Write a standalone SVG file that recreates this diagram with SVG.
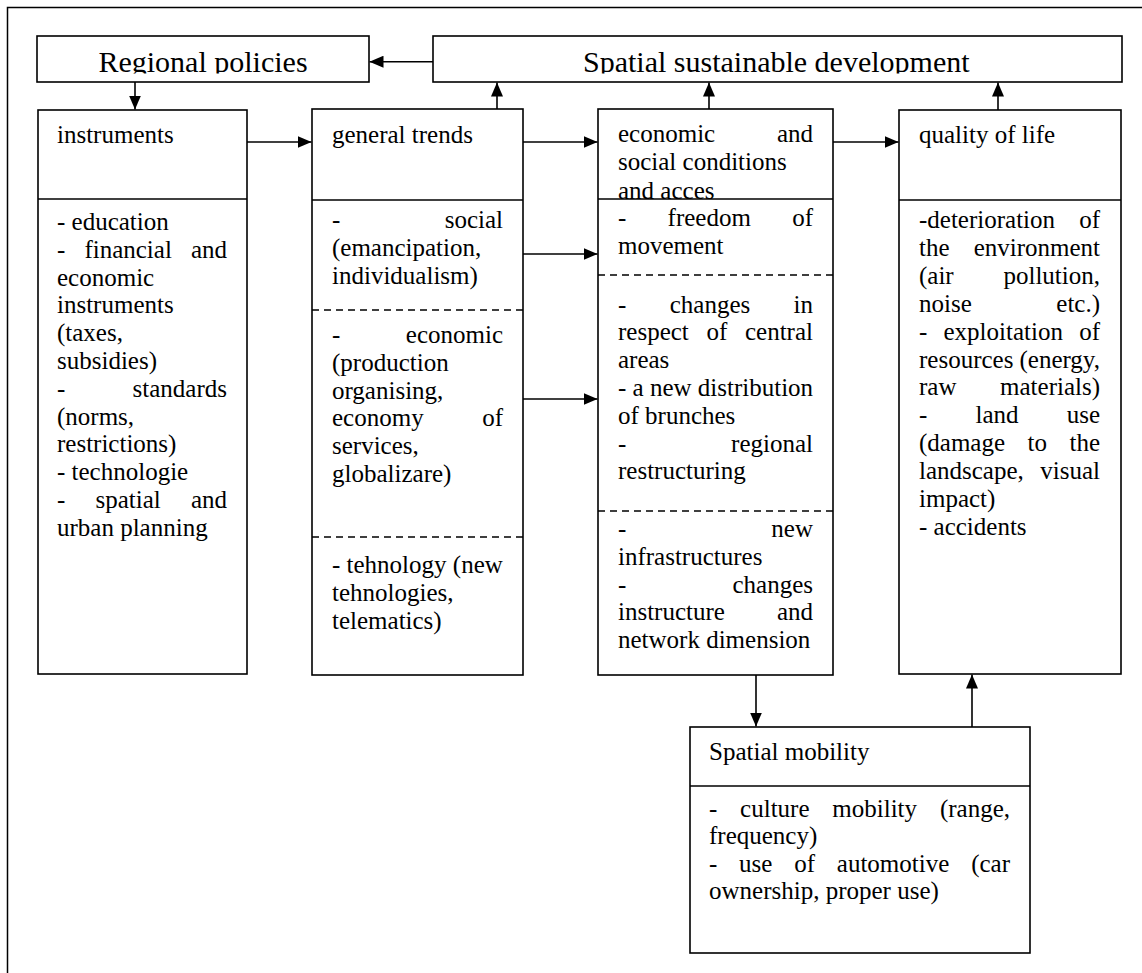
<svg xmlns="http://www.w3.org/2000/svg" width="1142" height="973" viewBox="0 0 1142 973">
<style>
.box{fill:#fff;stroke:#000;stroke-width:1.6}
.dv{stroke:#000;stroke-width:1.6;fill:none}
.dash{stroke:#000;stroke-width:1.3;stroke-dasharray:7 5;fill:none}
.t{font-family:"Liberation Serif","Times New Roman",serif;font-size:25px;fill:#000}
.big{font-size:30px}
.e{text-anchor:end}
.c{text-anchor:middle}
.conn{stroke:#000;stroke-width:1.6;fill:none;marker-end:url(#ah)}
</style>
<defs>
<marker id="ah" markerUnits="userSpaceOnUse" markerWidth="14" markerHeight="12" refX="14" refY="6" orient="auto">
<path d="M0,0 L14,6 L0,12 Z" fill="#000"/>
</marker>
<clipPath id="clipTop"><rect x="0" y="36" width="1142" height="37.5"/></clipPath>
</defs>
<rect x="0" y="0" width="1142" height="973" fill="#fff"/>
<path d="M7.5,980 V7.5 H1150" fill="none" stroke="#000" stroke-width="1.5"/>

<g id="regional-policies">
<rect class="box" x="37" y="36" width="332" height="46"/>
<text class="t big c" x="203" y="72" clip-path="url(#clipTop)">Regional policies</text>
</g>

<g id="spatial-sustainable-development">
<rect class="box" x="433" y="36" width="689" height="46"/>
<text class="t big" x="583" y="72" clip-path="url(#clipTop)">Spatial sustainable development</text>
</g>

<g id="instruments">
<rect class="box" x="38" y="110" width="209" height="564"/>
<line class="dv" x1="38" y1="199" x2="247" y2="199"/>
<text class="t" x="57" y="142.5">instruments</text>
<text class="t" x="57" y="230">- education</text>
<text class="t" x="57" y="257.8">-</text><text class="t" x="84.4" y="257.8">financial</text><text class="t e" x="227" y="257.8">and</text>
<text class="t" x="57" y="285.6">economic</text>
<text class="t" x="57" y="313.4">instruments</text>
<text class="t" x="57" y="341.2">(taxes,</text>
<text class="t" x="57" y="369">subsidies)</text>
<text class="t" x="57" y="396.8">-</text><text class="t e" x="227" y="396.8">standards</text>
<text class="t" x="57" y="424.6">(norms,</text>
<text class="t" x="57" y="452.4">restrictions)</text>
<text class="t" x="57" y="480.2">- technologie</text>
<text class="t" x="57" y="508">-</text><text class="t" x="95.5" y="508">spatial</text><text class="t e" x="227" y="508">and</text>
<text class="t" x="57" y="535.8">urban planning</text>
</g>

<g id="general-trends">
<rect class="box" x="312" y="109" width="211" height="566"/>
<line class="dv" x1="312" y1="200" x2="523" y2="200"/>
<line class="dash" x1="312" y1="310" x2="523" y2="310"/>
<line class="dash" x1="312" y1="537" x2="523" y2="537"/>
<text class="t" x="332" y="142.5">general trends</text>
<text class="t" x="332" y="228">-</text><text class="t e" x="503" y="228">social</text>
<text class="t" x="332" y="255.8">(emancipation,</text>
<text class="t" x="332" y="283.6">individualism)</text>
<text class="t" x="332" y="343">-</text><text class="t e" x="503" y="343">economic</text>
<text class="t" x="332" y="370.8">(production</text>
<text class="t" x="332" y="398.6">organising,</text>
<text class="t" x="332" y="426.4">economy</text><text class="t e" x="503" y="426.4">of</text>
<text class="t" x="332" y="454.2">services,</text>
<text class="t" x="332" y="482">globalizare)</text>
<text class="t" x="332" y="573">- tehnology (new</text>
<text class="t" x="332" y="600.8">tehnologies,</text>
<text class="t" x="332" y="628.6">telematics)</text>
</g>

<g id="economic-social-conditions">
<rect class="box" x="598" y="109" width="235" height="566"/>
<text class="t" x="618" y="142">economic</text><text class="t e" x="813" y="142">and</text>
<text class="t" x="618" y="170">social conditions</text>
<text class="t" x="618" y="198.5">and acces</text>
<line class="dv" x1="598" y1="199" x2="833" y2="199"/>
<line class="dash" x1="598" y1="275" x2="833" y2="275"/>
<line class="dash" x1="598" y1="511" x2="833" y2="511"/>
<text class="t" x="618" y="226">-</text><text class="t" x="667.6" y="226">freedom</text><text class="t e" x="813" y="226">of</text>
<text class="t" x="618" y="254">movement</text>
<text class="t" x="618" y="312.5">-</text><text class="t" x="669.7" y="312.5">changes</text><text class="t e" x="813" y="312.5">in</text>
<text class="t" x="618" y="340.3">respect</text><text class="t" x="706.5" y="340.3">of</text><text class="t e" x="813" y="340.3">central</text>
<text class="t" x="618" y="368.1">areas</text>
<text class="t" x="618" y="395.9">- a new distribution</text>
<text class="t" x="618" y="423.7">of brunches</text>
<text class="t" x="618" y="451.5">-</text><text class="t e" x="813" y="451.5">regional</text>
<text class="t" x="618" y="479.3">restructuring</text>
<text class="t" x="618" y="537">-</text><text class="t e" x="813" y="537">new</text>
<text class="t" x="618" y="564.8">infrastructures</text>
<text class="t" x="618" y="592.6">-</text><text class="t e" x="813" y="592.6">changes</text>
<text class="t" x="618" y="620.4">instructure</text><text class="t e" x="813" y="620.4">and</text>
<text class="t" x="618" y="648.2">network dimension</text>
</g>

<g id="quality-of-life">
<rect class="box" x="899" y="110" width="222" height="564"/>
<line class="dv" x1="899" y1="200" x2="1121" y2="200"/>
<text class="t" x="919" y="142.5">quality of life</text>
<text class="t" x="919" y="228">-deterioration</text><text class="t e" x="1100" y="228">of</text>
<text class="t" x="919" y="255.9">the</text><text class="t e" x="1100" y="255.9">environment</text>
<text class="t" x="919" y="283.8">(air</text><text class="t e" x="1100" y="283.8">pollution,</text>
<text class="t" x="919" y="311.7">noise</text><text class="t e" x="1100" y="311.7">etc.)</text>
<text class="t" x="919" y="339.6">-</text><text class="t" x="943.5" y="339.6">exploitation</text><text class="t e" x="1100" y="339.6">of</text>
<text class="t" x="919" y="367.5">resources</text><text class="t e" x="1100" y="367.5">(energy,</text>
<text class="t" x="919" y="395.4">raw</text><text class="t e" x="1100" y="395.4">materials)</text>
<text class="t" x="919" y="423.3">-</text><text class="t" x="975.5" y="423.3">land</text><text class="t e" x="1100" y="423.3">use</text>
<text class="t" x="919" y="451.2">(damage</text><text class="t" x="1027.5" y="451.2">to</text><text class="t e" x="1100" y="451.2">the</text>
<text class="t" x="919" y="479.1">landscape,</text><text class="t e" x="1100" y="479.1">visual</text>
<text class="t" x="919" y="507">impact)</text>
<text class="t" x="919" y="534.9">- accidents</text>
</g>

<g id="spatial-mobility">
<rect class="box" x="690" y="727" width="340" height="226"/>
<line class="dv" x1="690" y1="786" x2="1030" y2="786"/>
<text class="t" x="709" y="760">Spatial mobility</text>
<text class="t" x="709" y="816.5">-</text><text class="t" x="740.1" y="816.5">culture</text><text class="t" x="832.3" y="816.5">mobility</text><text class="t e" x="1010" y="816.5">(range,</text>
<text class="t" x="709" y="844">frequency)</text>
<text class="t" x="709" y="871.5">-</text><text class="t" x="739.1" y="871.5">use</text><text class="t" x="794.2" y="871.5">of</text><text class="t" x="836.8" y="871.5">automotive</text><text class="t e" x="1010" y="871.5">(car</text>
<text class="t" x="709" y="899">ownership, proper use)</text>
</g>

<g id="connectors">
<line class="conn" x1="433" y1="61.7" x2="369.5" y2="61.7"/>
<line class="conn" x1="135" y1="82" x2="135" y2="109.5"/>
<line class="conn" x1="247" y1="142" x2="311.5" y2="142"/>
<line class="conn" x1="497" y1="109" x2="497" y2="82.5"/>
<line class="conn" x1="523" y1="142" x2="597.5" y2="142"/>
<line class="conn" x1="523" y1="254" x2="597.5" y2="254"/>
<line class="conn" x1="523" y1="399" x2="597.5" y2="399"/>
<line class="conn" x1="709" y1="109" x2="709" y2="82.5"/>
<line class="conn" x1="833" y1="142" x2="898.5" y2="142"/>
<line class="conn" x1="998" y1="110" x2="998" y2="82.5"/>
<line class="conn" x1="756" y1="675" x2="756" y2="726.5"/>
<line class="conn" x1="972" y1="727" x2="972" y2="674.5"/>
</g>
</svg>
